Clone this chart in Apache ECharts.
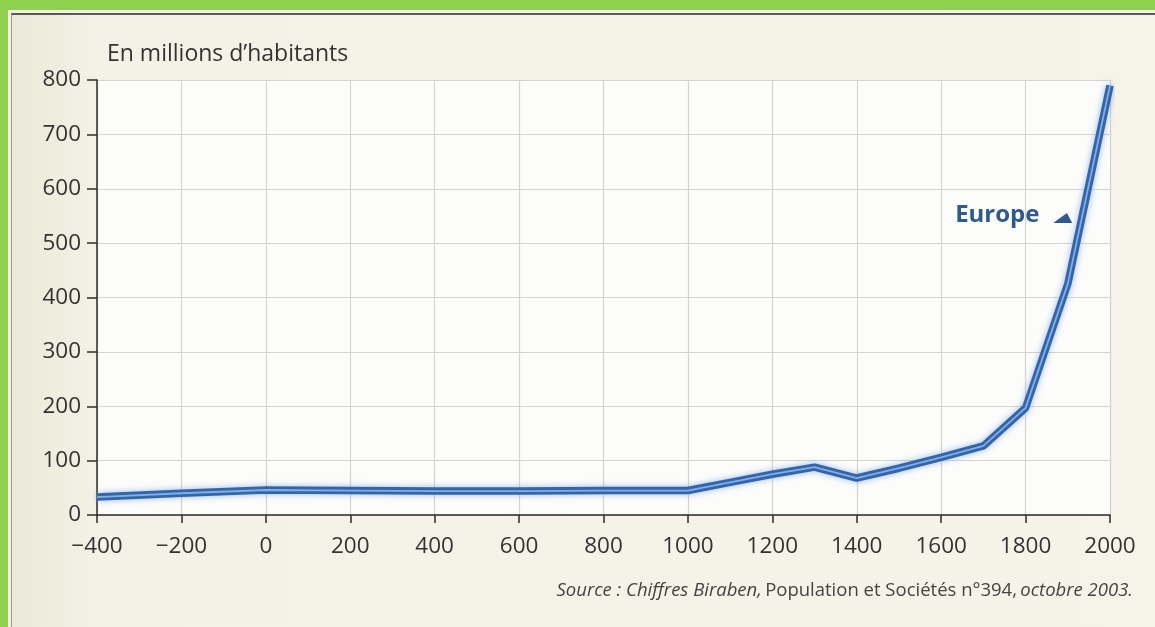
<!DOCTYPE html>
<html><head><meta charset="utf-8">
<script src="https://cdn.jsdelivr.net/npm/echarts@6/dist/echarts.min.js"></script>
<style>
html,body{margin:0;padding:0;width:1155px;height:627px;overflow:hidden;background:#8fd14f;}
#wrap{position:absolute;left:8px;top:10px;right:0;bottom:0;background:#f3f0e4;}
#frame{position:absolute;left:3px;top:3px;right:0;bottom:0;border-top:2px solid #5a5a5a;border-left:1px solid #9a9a9a;background:linear-gradient(90deg,#ebe9d8 0px,#f4f2e6 90px,#f6f3e8 100%);}
#chart{position:absolute;left:-12px;top:-15px;width:1155px;height:627px;}
</style></head>
<body><div id="wrap"><div id="frame"><div id="chart"></div></div></div>
<script>
const years = [-400, -200, 0, 200, 400, 600, 800, 1000, 1100, 1200, 1300, 1400, 1500, 1600, 1700, 1800, 1900, 2000];
const population = [33, 40, 46, 45, 44, 44, 45, 45, 60, 75, 88, 68, 86, 106, 127, 197, 425, 790];
const xTicks = {min: -400, max: 2000, step: 200};
const yTicks = {min: 0, max: 800, step: 100};
const yAxisTitle = "En millions d\u2019habitants";
const seriesLabel = "Europe";

const pts = years.map((y, i) => [y, population[i]]);
const font = "'Open Sans', 'Noto Sans', sans-serif";
const chart = echarts.init(document.getElementById('chart'), null, {renderer: 'canvas'});
chart.setOption({
  animation: false,
  backgroundColor: 'transparent',
  grid: {left: 97, right: 45, top: 80, bottom: 112, show: true, backgroundColor: '#fcfcfa', borderWidth: 0},
  xAxis: {
    type: 'value', min: xTicks.min, max: xTicks.max, interval: xTicks.step,
    axisLine: {show: true, onZero: false, lineStyle: {color: '#2b2b2b', width: 1.5}},
    axisTick: {show: true, length: 8, inside: false, lineStyle: {color: '#2b2b2b', width: 1.5}},
    axisLabel: {color: '#333', fontSize: 22.5, fontFamily: font, margin: 20,
      formatter: v => v < 0 ? '\u2212' + Math.abs(v) : String(v)},
    splitLine: {show: true, lineStyle: {color: '#d3d3d0', width: 1.2}}
  },
  yAxis: {
    type: 'value', min: yTicks.min, max: yTicks.max, interval: yTicks.step,
    name: yAxisTitle, nameLocation: 'end', nameGap: 14,
    nameTextStyle: {color: '#333', fontSize: 23, fontFamily: font, align: 'left', padding: [0, 0, 0, 10]},
    axisLine: {show: true, onZero: false, lineStyle: {color: '#2b2b2b', width: 1.5}},
    axisTick: {show: true, length: 10, lineStyle: {color: '#2b2b2b', width: 1.5}},
    axisLabel: {color: '#333', fontSize: 22.5, fontFamily: font, margin: 16},
    splitLine: {show: true, lineStyle: {color: '#d3d3d0', width: 1.2}}
  },
  series: [
    {type: 'line', data: pts, symbol: 'none', silent: true, z: 3,
     lineStyle: {color: '#3565a8', width: 7.5, shadowColor: 'rgba(110,160,230,0.7)', shadowBlur: 6},
     markPoint: {
       silent: true, animation: false,
       data: [
         {coord: [1733, 552], symbol: 'rect', symbolSize: 1, itemStyle: {color: 'transparent'},
          label: {show: true, formatter: seriesLabel, color: '#2f5a8c', fontSize: 24, fontWeight: 'bold', fontFamily: font, position: 'inside'}},
         {coord: [1888, 546], symbol: 'path://M0,10 L13,0 L18,10 Z', symbolSize: [19, 10],
          itemStyle: {color: '#2f5a8c'}, label: {show: false}}
       ]
     }},
    {type: 'line', data: pts, symbol: 'none', silent: true, z: 4,
     lineStyle: {color: '#7fb0e8', width: 1.8}}
  ],
  graphic: [{
    type: 'text', right: 22, top: 581,
    style: {
      text: '{i|Source : Chiffres Biraben,} {n|Population et Soci\u00e9t\u00e9s n\u00b0394,} {i|octobre 2003.}',
      rich: {
        i: {fontStyle: 'italic', fontSize: 18.5, fontFamily: font, fill: '#444'},
        n: {fontSize: 18.5, fontFamily: font, fill: '#444'}
      }
    }
  }]
});
</script></body></html>
